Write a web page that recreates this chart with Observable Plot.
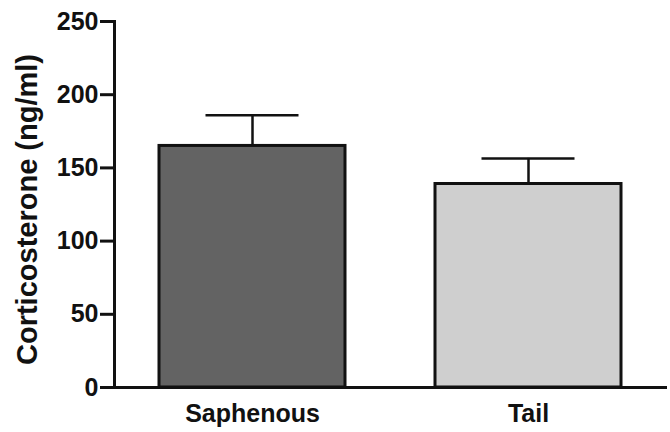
<!DOCTYPE html>
<html>
<head>
<meta charset="utf-8">
<script src="https://cdn.jsdelivr.net/npm/d3@7"></script>
<script src="https://cdn.jsdelivr.net/npm/@observablehq/plot@0.6"></script>
<style>
  html, body { margin: 0; padding: 0; background: #fff; }
  svg text { font-family: "Liberation Sans", Arial, sans-serif; font-weight: bold; }
</style>
</head>
<body>
<div id="chart"></div>
<script>
const categories = ["Saphenous", "Tail"];
const means = [165, 139];
const errors = [21, 17.5];
const fills = ["#636363", "#cfcfcf"];
const yTicks = [0, 50, 100, 150, 200, 250];
const yTitle = "Corticosterone (ng/ml)";

const data = categories.map((c, i) => ({cat: c, mean: means[i], top: means[i] + errors[i], fill: fills[i]}));

const chart = Plot.plot({
  width: 670,
  height: 432,
  marginLeft: 114,
  marginRight: 3,
  marginTop: 21,
  marginBottom: 45,
  style: {background: "#fff", color: "#111"},
  x: {domain: categories, paddingInner: 0.326, paddingOuter: 0.163, label: null},
  y: {domain: [0, 250], label: null},
  marks: [
    Plot.ruleX(data, {x: "cat", y1: "mean", y2: "top", stroke: "#111", strokeWidth: 2.5}),
    Plot.tickY(data, {x: "cat", y: "top", stroke: "#111", strokeWidth: 2.5, insetLeft: 46.5, insetRight: 46.5}),
    Plot.barY(data, {x: "cat", y: "mean", fill: d => d.fill, stroke: "#111", strokeWidth: 3}),
    Plot.axisY({ticks: yTicks, tickSize: 14, tickPadding: 2, fontSize: 25, strokeWidth: 3, label: null}),
    Plot.axisX({tickSize: 0, tickPadding: 17, fontSize: 25, label: null}),
    Plot.frame({anchor: "left", stroke: "#111", strokeWidth: 3}),
    Plot.ruleY([0], {stroke: "#111", strokeWidth: 3}),
    Plot.text([yTitle], {frameAnchor: "left", textAnchor: "middle", lineAnchor: "middle", rotate: -90, dx: -87, dy: 5, fontSize: 29, fill: "#111", fontWeight: "bold"})
  ]
});
document.getElementById("chart").appendChild(chart);
</script>
</body>
</html>
